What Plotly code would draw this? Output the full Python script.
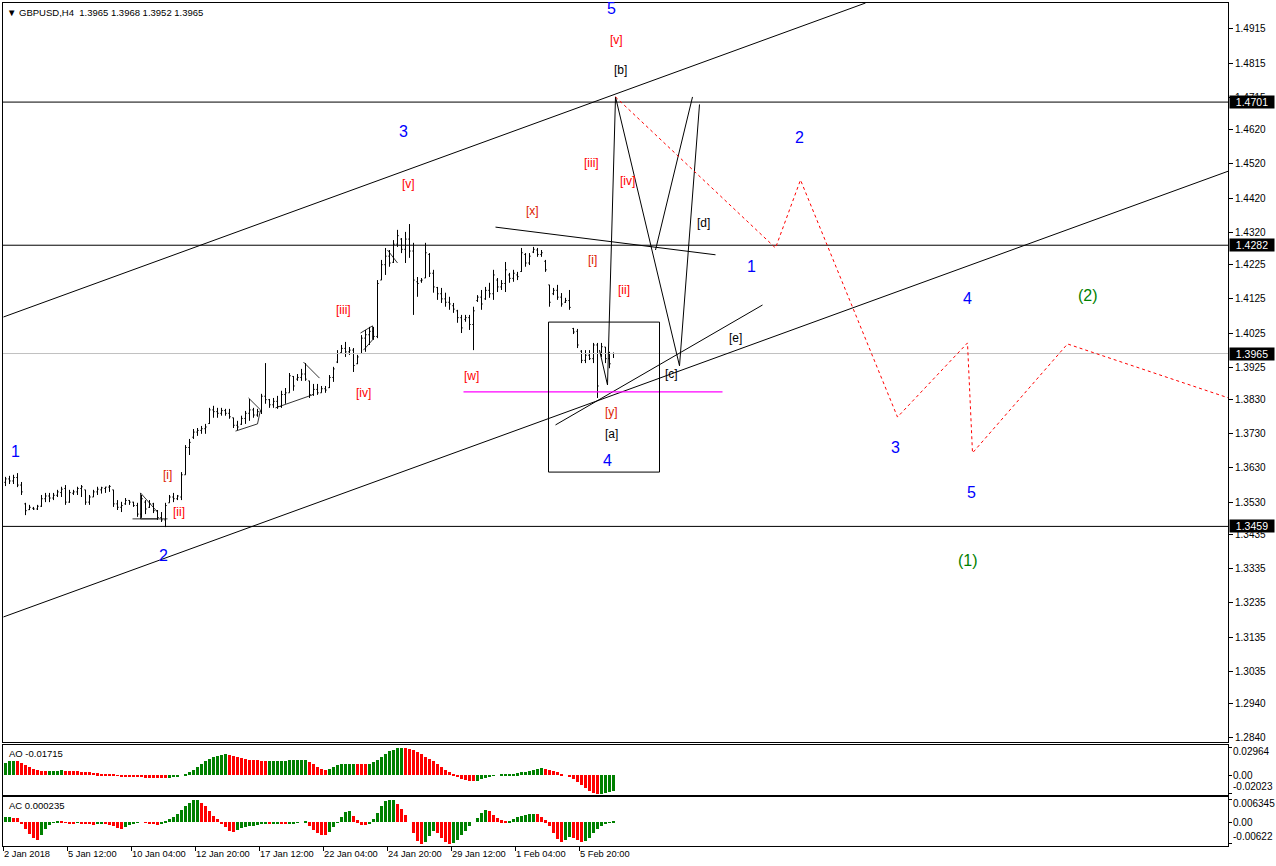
import plotly.graph_objects as go

# ---------------- data ----------------
bar_open = [1.3588,1.3598,1.3592,1.3602,1.3580,1.3525,1.3508,1.3512,1.3510,1.3518,
1.3540,1.3548,1.3542,1.3550,1.3558,1.3570,1.3530,1.3556,1.3560,1.3570,
1.3566,1.3530,1.3545,1.3560,1.3566,1.3570,1.3574,1.3566,1.3525,1.3515,
1.3525,1.3535,1.3530,1.3520,1.3495,1.3530,1.3515,1.3525,1.3505,1.3485,
1.3478,1.3528,1.3545,1.3540,1.3545,1.3610,1.3690,1.3720,1.3735,1.3740,
1.3745,1.3760,1.3800,1.3795,1.3790,1.3798,1.3790,1.3777,1.3755,1.3758,
1.3775,1.3790,1.3800,1.3785,1.3795,1.3840,1.3830,1.3815,1.3825,1.3810,
1.3845,1.3850,1.3898,1.3890,1.3895,1.3905,1.3885,1.3845,1.3860,1.3850,
1.3862,1.3865,1.3895,1.3940,1.3968,1.3980,1.3970,1.3975,1.3935,1.3965,
1.4010,1.4020,1.4030,1.4015,1.4180,1.4225,1.4250,1.4232,1.4285,1.4300,
1.4270,1.4300,1.4265,1.4175,1.4178,1.4186,1.4255,1.4200,1.4158,1.4140,
1.4125,1.4115,1.4105,1.4090,1.4070,1.4065,1.4070,1.4050,1.4120,1.4130,
1.4125,1.4150,1.4140,1.4180,1.4160,1.4170,1.4195,1.4185,1.4195,1.4205,
1.4255,1.4230,1.4262,1.4268,1.4255,1.4235,1.4166,1.4140,1.4150,1.4130,
1.4115,1.4120,1.4038,1.4030,1.3972,1.3945,1.3960,1.3950,1.3990,1.3965,
1.3984,1.3950,1.3965]
bar_high = [1.3604,1.3607,1.3610,1.3615,1.3589,1.3528,1.3522,1.3516,1.3522,1.3551,
1.3557,1.3557,1.3557,1.3566,1.3575,1.3580,1.3566,1.3566,1.3575,1.3580,
1.3566,1.3551,1.3566,1.3575,1.3575,1.3575,1.3580,1.3566,1.3536,1.3531,
1.3542,1.3536,1.3531,1.3528,1.3551,1.3536,1.3536,1.3528,1.3507,1.3501,
1.3528,1.3551,1.3557,1.3551,1.3618,1.3697,1.3715,1.3744,1.3747,1.3753,
1.3759,1.3806,1.3812,1.3806,1.3806,1.3803,1.3803,1.3777,1.3768,1.3783,
1.3797,1.3832,1.3806,1.3803,1.3847,1.3937,1.3832,1.3835,1.3841,1.3856,
1.3864,1.3908,1.3899,1.3905,1.3920,1.3937,1.3885,1.3876,1.3876,1.3870,
1.3870,1.3902,1.3926,1.3975,1.3990,1.3999,1.3984,1.3981,1.3961,1.4019,
1.4034,1.4043,1.4043,1.4180,1.4239,1.4274,1.4268,1.4297,1.4327,1.4303,
1.4321,1.4344,1.4289,1.4189,1.4186,1.4289,1.4259,1.4210,1.4160,1.4157,
1.4143,1.4131,1.4113,1.4093,1.4078,1.4078,1.4078,1.4102,1.4136,1.4151,
1.4160,1.4172,1.4210,1.4186,1.4180,1.4233,1.4201,1.4210,1.4204,1.4274,
1.4259,1.4259,1.4277,1.4274,1.4268,1.4239,1.4166,1.4157,1.4166,1.4142,
1.4128,1.4151,1.4040,1.4037,1.3975,1.3975,1.3975,1.3996,1.3996,1.3996,
1.3984,1.3970,1.3968]
bar_low = [1.3577,1.3583,1.3583,1.3574,1.3551,1.3492,1.3507,1.3507,1.3507,1.3516,
1.3530,1.3530,1.3536,1.3545,1.3545,1.3522,1.3528,1.3551,1.3551,1.3545,
1.3522,1.3522,1.3545,1.3551,1.3555,1.3557,1.3560,1.3516,1.3507,1.3501,
1.3522,1.3522,1.3516,1.3487,1.3484,1.3495,1.3513,1.3498,1.3478,1.3472,
1.3457,1.3528,1.3530,1.3536,1.3536,1.3610,1.3668,1.3715,1.3724,1.3730,
1.3730,1.3759,1.3777,1.3777,1.3783,1.3783,1.3774,1.3747,1.3741,1.3756,
1.3759,1.3768,1.3777,1.3780,1.3788,1.3818,1.3806,1.3806,1.3803,1.3806,
1.3818,1.3850,1.3856,1.3885,1.3885,1.3885,1.3835,1.3841,1.3844,1.3850,
1.3850,1.3864,1.3882,1.3937,1.3967,1.3955,1.3961,1.3911,1.3934,1.3964,
1.3970,1.3990,1.4005,1.4010,1.4180,1.4195,1.4219,1.4230,1.4277,1.4259,
1.4230,1.4245,1.4078,1.4131,1.4172,1.4186,1.4189,1.4143,1.4122,1.4113,
1.4102,1.4093,1.4084,1.4055,1.4025,1.4058,1.4034,1.3975,1.4116,1.4093,
1.4122,1.4128,1.4122,1.4145,1.4151,1.4145,1.4172,1.4175,1.4180,1.4204,
1.4219,1.4224,1.4259,1.4248,1.4248,1.4204,1.4102,1.4136,1.4122,1.4102,
1.4113,1.4093,1.4022,1.3981,1.3937,1.3937,1.3946,1.3937,1.3835,1.3955,
1.3937,1.3922,1.3952]
bar_close = [1.3598,1.3592,1.3602,1.3580,1.3560,1.3505,1.3515,1.3510,1.3518,1.3540,
1.3548,1.3542,1.3550,1.3560,1.3568,1.3530,1.3558,1.3560,1.3570,1.3575,
1.3530,1.3545,1.3560,1.3568,1.3572,1.3574,1.3576,1.3525,1.3515,1.3520,
1.3535,1.3530,1.3520,1.3495,1.3540,1.3510,1.3525,1.3505,1.3485,1.3478,
1.3520,1.3545,1.3540,1.3548,1.3610,1.3690,1.3705,1.3735,1.3740,1.3745,
1.3750,1.3800,1.3795,1.3790,1.3798,1.3790,1.3780,1.3755,1.3750,1.3775,
1.3790,1.3800,1.3785,1.3795,1.3840,1.3830,1.3815,1.3825,1.3810,1.3845,
1.3850,1.3900,1.3870,1.3895,1.3905,1.3890,1.3845,1.3860,1.3850,1.3862,
1.3858,1.3895,1.3920,1.3965,1.3980,1.3970,1.3975,1.3930,1.3955,1.4010,
1.4020,1.4030,1.4015,1.4170,1.4225,1.4250,1.4230,1.4285,1.4310,1.4270,
1.4300,1.4265,1.4180,1.4170,1.4180,1.4260,1.4200,1.4160,1.4140,1.4125,
1.4115,1.4110,1.4095,1.4070,1.4040,1.4070,1.4050,1.4090,1.4130,1.4110,
1.4150,1.4140,1.4195,1.4160,1.4170,1.4210,1.4185,1.4200,1.4190,1.4260,
1.4230,1.4250,1.4270,1.4255,1.4260,1.4210,1.4115,1.4150,1.4130,1.4110,
1.4120,1.4100,1.4028,1.3990,1.3945,1.3960,1.3950,1.3990,1.3870,1.3985,
1.3950,1.3935,1.3965]

ao_values = [0.0130,0.0150,0.0155,0.0150,0.0130,0.0110,0.0085,0.0065,0.0050,0.0045,
0.0042,0.0044,0.0046,0.0048,0.0050,0.0048,0.0046,0.0044,0.0042,0.0038,
0.0034,0.0030,0.0025,0.0020,0.0015,0.0010,0.0005,0.0002,-0.0005,-0.0010,
-0.0015,-0.0020,-0.0022,-0.0024,-0.0026,-0.0027,-0.0028,-0.0030,-0.0032,-0.0034,
-0.0035,-0.0030,-0.0022,-0.0012,0.0000,0.0015,0.0035,0.0060,0.0090,0.0120,
0.0150,0.0175,0.0195,0.0210,0.0220,0.0225,0.0215,0.0205,0.0195,0.0185,
0.0175,0.0168,0.0162,0.0158,0.0155,0.0152,0.0153,0.0154,0.0155,0.0156,
0.0157,0.0158,0.0159,0.0160,0.0161,0.0162,0.0140,0.0115,0.0090,0.0070,
0.0055,0.0070,0.0090,0.0105,0.0115,0.0120,0.0122,0.0124,0.0123,0.0121,
0.0119,0.0125,0.0140,0.0165,0.0195,0.0225,0.0255,0.0275,0.0290,0.02964,
0.0294,0.0285,0.0270,0.0250,0.0225,0.0200,0.0175,0.0150,0.0120,0.0090,
0.0060,0.0030,0.0005,-0.0020,-0.0040,-0.0055,-0.0062,-0.0065,-0.0060,-0.0045,
-0.0030,-0.0015,-0.0005,0.0000,0.0003,0.0006,0.0010,0.0015,0.0020,0.0028,
0.0036,0.0045,0.0055,0.0065,0.0075,0.0070,0.0060,0.0045,0.0030,0.0015,
0.0000,-0.0020,-0.0045,-0.0075,-0.0105,-0.0140,-0.0170,-0.0190,-0.02023,-0.0200,
-0.0195,-0.0185,-0.01715]

ac_values = [0.0013,0.0014,0.0012,0.0010,-0.0005,-0.0020,-0.0035,-0.0046,-0.0050,-0.0038,
-0.0020,-0.0008,-0.0002,0.0002,0.0001,-0.0002,-0.0003,-0.0004,-0.0002,-0.0003,
-0.0005,-0.0007,-0.0008,-0.0005,-0.0003,-0.0004,-0.0008,-0.0012,-0.0018,-0.0020,
-0.0014,-0.0008,-0.0004,-0.0002,0.0000,-0.0002,-0.0003,-0.0006,-0.0009,-0.0004,
0.0003,0.0008,0.0015,0.0024,0.0034,0.0045,0.0055,0.0062,0.006345,0.0055,
0.0045,0.0030,0.0018,0.0008,-0.0005,-0.0015,-0.0025,-0.0028,-0.0022,-0.0018,
-0.0014,-0.0012,-0.0010,-0.0008,-0.0006,-0.0005,-0.0006,-0.0004,-0.0003,-0.0005,
-0.0006,-0.0004,-0.0003,-0.0002,0.0000,0.0001,-0.0012,-0.0022,-0.0030,-0.0036,
-0.0038,-0.0028,-0.0015,-0.0002,0.0015,0.0028,0.0030,0.0018,0.0005,-0.0008,
-0.0009,-0.0003,0.0008,0.0025,0.0045,0.0060,0.0063,0.006345,0.0052,0.0038,
0.0020,0.0000,-0.0030,-0.0055,-0.0062,-0.0058,-0.0040,-0.0025,-0.0030,-0.0045,
-0.0058,-0.00622,-0.0060,-0.0050,-0.0038,-0.0025,-0.0010,0.0000,0.0012,0.0025,
0.0033,0.0030,0.0020,0.0010,0.0005,0.0001,0.0003,0.0008,0.0013,0.0017,
0.0020,0.0022,0.0024,0.0022,0.0015,0.0005,-0.0010,-0.0030,-0.0048,-0.0056,
-0.0050,-0.0042,-0.0045,-0.0050,-0.0058,-0.0055,-0.0045,-0.0032,-0.0020,-0.0010,
-0.0005,-0.0001,0.000235]

time_labels = ["2 Jan 2018", "5 Jan 12:00", "10 Jan 04:00", "12 Jan 20:00", "17 Jan 12:00",
               "22 Jan 04:00", "24 Jan 20:00", "29 Jan 12:00", "1 Feb 04:00", "5 Feb 20:00"]
time_label_bars = [-0.5, 15.5, 31.5, 47.5, 63.5, 79.5, 95.5, 111.5, 127.5, 143.5]

price_ticks = [1.4915, 1.4815, 1.4715, 1.4620, 1.4520, 1.4420, 1.4320, 1.4225, 1.4125, 1.4025,
               1.3925, 1.3830, 1.3730, 1.3630, 1.3530, 1.3435, 1.3335, 1.3235, 1.3135, 1.3035,
               1.2940, 1.2840]
level_lines = [1.4701, 1.4282, 1.3459]
current_price = 1.3965
magenta_level = 1.3853
ao_ticks = [0.02964, 0.0, -0.02023]
ao_tick_text = ["0.02964", "0.00", "-0.02023"]
ac_ticks = [0.006345, 0.0, -0.00622]
ac_tick_text = ["0.006345", "0.00", "-0.00622"]

# Trend lines (bar index, price)
upper_channel = ([-0.5, 215.0], [1.4072, 1.4991])
lower_channel = ([-0.5, 305.75], [1.3194, 1.4499])
e_line = ([137.5, 189.25], [1.3756, 1.4107])
x_line = ([122.5, 177.5], [1.4335, 1.4254])
magenta_span = [114.5, 179.25]
box_x = [135.75, 163.5]
box_y = [1.3618, 1.4057]
wave_path_x = [148.5, 150.5, 152.5, 168.5, 173.5]
wave_path_y = [1.3975, 1.3873, 1.4716, 1.3929, 1.4694]
wave_path2_x = [162.5, 171.75]
wave_path2_y = [1.4268, 1.4716]
forecast_x = [152.5, 192.5, 198.75, 223.0, 240.5, 241.75, 265.5, 305.75]
forecast_y = [1.4716, 1.4274, 1.4473, 1.3779, 1.3996, 1.3674, 1.3993, 1.3835]
patterns = [
    ([33.75, 38.0, 38.0, 33.75, 33.75], [1.3557, 1.3501, 1.3481, 1.3481, 1.3557]),
    ([31.75, 40.5], [1.3481, 1.3481]),
    ([57.5, 63.0, 63.75, 60.75], [1.3738, 1.3759, 1.3800, 1.3835]),
    ([67.5, 76.75], [1.3806, 1.3844]),
    ([74.5, 78.5], [1.3940, 1.3893]),
    ([89.5, 91.75, 91.75, 88.75], [1.3975, 1.4005, 1.4046, 1.4025]),
    ([95.5, 98.0], [1.4268, 1.4230]),
]

# wave labels: (text, bar, price, colour key, size)
wave_labels = [
    ("5", 151.5, 1.4976, "blue", 16), ("[v]", 152.75, 1.4883, "red", 12),
    ("[b]", 153.75, 1.4795, "black", 12), ("3", 99.5, 1.4616, "blue", 16),
    ("[v]", 100.75, 1.4461, "red", 12), ("[x]", 131.75, 1.4382, "dred", 12),
    ("[iii]", 146.5, 1.4523, "red", 12), ("[iv]", 155.5, 1.4470, "red", 12),
    ("[d]", 174.5, 1.4347, "black", 12), ("2", 198.5, 1.4596, "blue", 16),
    ("1", 186.5, 1.4221, "blue", 16), ("[i]", 146.75, 1.4239, "dred", 12),
    ("[ii]", 154.5, 1.4151, "red", 12), ("[iii]", 84.5, 1.4093, "red", 12),
    ("[iv]", 89.5, 1.3850, "red", 12), ("[w]", 116.5, 1.3899, "red", 12),
    ("[y]", 151.5, 1.3794, "dred", 12), ("[a]", 151.5, 1.3730, "black", 12),
    ("4", 150.5, 1.3653, "blue", 16), ("[e]", 182.5, 1.4011, "black", 12),
    ("[c]", 166.5, 1.3905, "black", 12), ("4", 240.5, 1.4125, "blue", 16),
    ("(2)", 270.5, 1.4134, "green", 16), ("3", 222.5, 1.3689, "blue", 16),
    ("5", 241.5, 1.3557, "blue", 16), ("(1)", 240.5, 1.3358, "green", 16),
    ("1", 2.5, 1.3677, "blue", 16), ("2", 39.5, 1.3375, "blue", 16),
    ("[i]", 40.5, 1.3610, "dred", 12), ("[ii]", 43.25, 1.3501, "red", 12),
]
label_colors = {"blue": "#0000ff", "red": "#ff0000", "dred": "#dd2200",
                "black": "#000000", "green": "#008000"}

# ---------------- figure ----------------
FONT = "Liberation Sans"
bars = list(range(len(bar_close)))
fig = go.Figure()

fig.add_trace(go.Ohlc(x=bars, open=bar_open, high=bar_high, low=bar_low, close=bar_close,
                      increasing=dict(line=dict(color="black", width=1)),
                      decreasing=dict(line=dict(color="black", width=1)),
                      tickwidth=0.3, xaxis="x", yaxis="y", hoverinfo="skip"))

def line(xs, ys, color="black", width=1, dash="solid", xa="x", ya="y"):
    fig.add_trace(go.Scatter(x=xs, y=ys, mode="lines", xaxis=xa, yaxis=ya,
                             line=dict(color=color, width=width, dash=dash), hoverinfo="skip"))

full_x = [-1, 307]
line(full_x, [current_price, current_price], color="#c0c0c0")
for lv in level_lines:
    line(full_x, [lv, lv])
line(*upper_channel)
line(*lower_channel)
line(*e_line)
line(*x_line)
line(magenta_span, [magenta_level, magenta_level], color="#ff00ff", width=1.3)
line([box_x[0], box_x[1], box_x[1], box_x[0], box_x[0]],
     [box_y[0], box_y[0], box_y[1], box_y[1], box_y[0]])
line(wave_path_x, wave_path_y)
line(wave_path2_x, wave_path2_y)
line(forecast_x, forecast_y, color="#ff0000", dash="dot")
for px, py in patterns:
    line(px, py, width=0.8)

up, dn = "#008000", "#ff0000"
ao_colors = [up if i == 0 or ao_values[i] > ao_values[i - 1] else dn for i in range(len(ao_values))]
ac_colors = [up if i == 0 or ac_values[i] > ac_values[i - 1] else dn for i in range(len(ac_values))]
fig.add_trace(go.Bar(x=bars, y=ao_values, marker=dict(color=ao_colors, line=dict(width=0)),
                     width=0.75, xaxis="x2", yaxis="y2", hoverinfo="skip"))
fig.add_trace(go.Bar(x=bars, y=ac_values, marker=dict(color=ac_colors, line=dict(width=0)),
                     width=0.75, xaxis="x3", yaxis="y3", hoverinfo="skip"))

annotations = []
for txt, bx, py, ck, sz in wave_labels:
    annotations.append(dict(text=txt, x=bx, y=py, xref="x", yref="y", showarrow=False,
                            font=dict(family="Liberation Sans", size=sz, color=label_colors[ck])))

for lv in level_lines + [current_price]:
    annotations.append(dict(text=f"{lv:.4f}", x=1, y=lv, xref="paper", yref="y", xanchor="left",
                            showarrow=False, bgcolor="black", xshift=1, borderpad=0,
                            width=44, height=12, align="center",
                            font=dict(family=FONT, size=10.5, color="white")))

# indicator scale labels (MetaTrader places extreme labels inside the panel)
for vals, texts, ya, shifts in [(ao_ticks, ao_tick_text, "y2", [-4, 0, 7]),
                                 (ac_ticks, ac_tick_text, "y3", [-4, 0, 7])]:
    for v, t, s in zip(vals, texts, shifts):
        annotations.append(dict(text=t, x=1, y=v, xref="paper", yref=ya, xanchor="left",
                                xshift=3, yshift=s, showarrow=False,
                                font=dict(family=FONT, size=10, color="black")))

annotations.append(dict(text="▼ GBPUSD,H4  1.3965 1.3968 1.3952 1.3965", x=0, y=1,
                        xref="paper", yref="paper", xanchor="left", yanchor="top",
                        xshift=2, yshift=-2, showarrow=False,
                        font=dict(family=FONT, size=9.5, color="black")))
annotations.append(dict(text="AO -0.01715", x=0, y=0.1198, xref="paper", yref="paper",
                        xanchor="left", yanchor="top", xshift=4, yshift=-1, showarrow=False,
                        font=dict(family=FONT, size=9.5, color="black")))
annotations.append(dict(text="AC 0.000235", x=0, y=0.0581, xref="paper", yref="paper",
                        xanchor="left", yanchor="top", xshift=4, yshift=-1, showarrow=False,
                        font=dict(family=FONT, size=9.5, color="black")))
for lbl, bx in zip(time_labels, time_label_bars):
    annotations.append(dict(text=lbl, x=bx, y=0, xref="x3", yref="paper", xanchor="left",
                            yanchor="top", yshift=-1, xshift=-2, showarrow=False,
                            font=dict(family=FONT, size=9.3, color="black")))

axis_common = dict(showline=True, linecolor="black", linewidth=1, mirror=True,
                   showgrid=False, zeroline=False)
xr = [-0.625, 305.625]
fig.update_layout(
    width=1276, height=866, margin=dict(l=3, r=48, t=3, b=20),
    paper_bgcolor="white", plot_bgcolor="white", showlegend=False, hovermode=False,
    font=dict(family=FONT, size=10, color="black"),
    xaxis=dict(domain=[0, 1], anchor="y", range=xr, showticklabels=False, ticks="",
               rangeslider=dict(visible=False), **axis_common),
    yaxis=dict(domain=[0.1234, 1], anchor="x", side="right", range=[1.2828, 1.4991],
               tickvals=price_ticks, ticktext=[f"{v:.4f}" for v in price_ticks],
               ticks="outside", ticklen=4, tickcolor="black", tickfont=dict(size=10),
               automargin=False, **axis_common),
    xaxis2=dict(domain=[0, 1], anchor="y2", range=xr, matches="x", showticklabels=False,
                ticks="", **axis_common),
    yaxis2=dict(domain=[0.0605, 0.1198], anchor="x2", side="right", range=[-0.0215, 0.0325],
                tickvals=ao_ticks, showticklabels=False, ticks="outside", ticklen=3,
                tickcolor="black", automargin=False, **axis_common),
    xaxis3=dict(domain=[0, 1], anchor="y3", range=xr, matches="x", showticklabels=False,
                ticks="outside", ticklen=4, tickcolor="black", tickvals=time_label_bars,
                **axis_common),
    yaxis3=dict(domain=[0, 0.0581], anchor="x3", side="right", range=[-0.0068, 0.0071],
                tickvals=ac_ticks, showticklabels=False, ticks="outside", ticklen=3,
                tickcolor="black", automargin=False, **axis_common),
    annotations=annotations, bargap=0,
)

fig.write_html("out.html", config={"displayModeBar": False},
               post_script="document.body.style.margin='0';document.body.style.overflow='hidden';")
